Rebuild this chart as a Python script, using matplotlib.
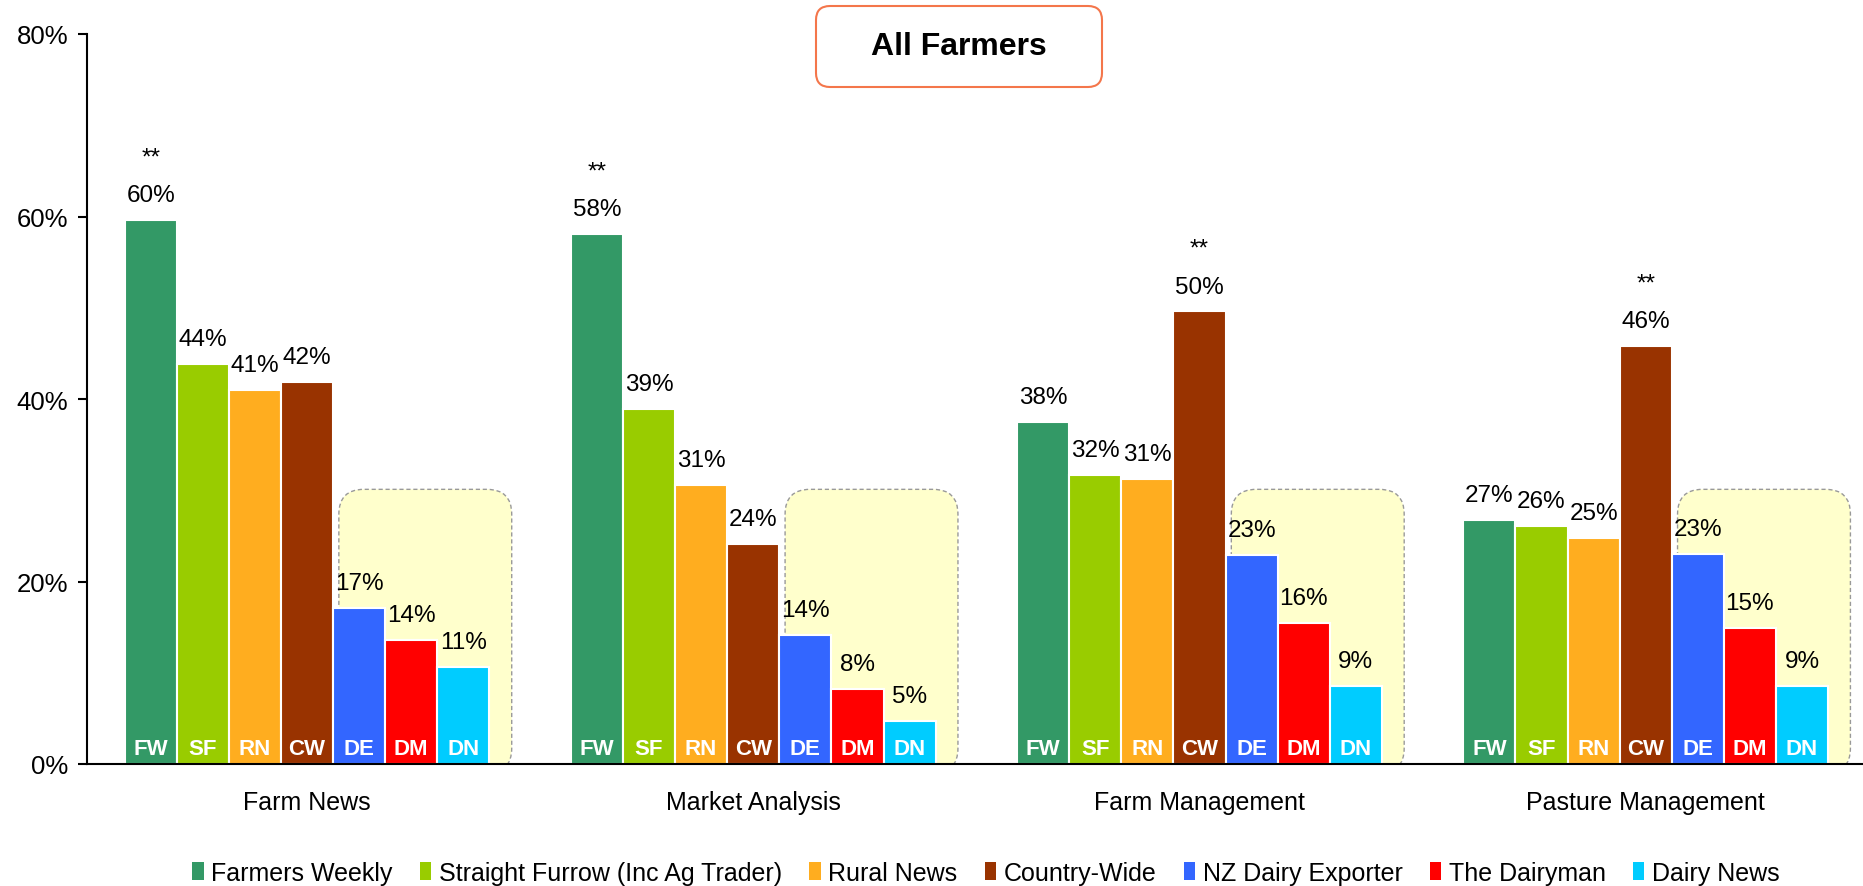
import matplotlib.pyplot as plt
from matplotlib.patches import FancyBboxPatch, Patch
from matplotlib.ticker import FuncFormatter

plt.rcParams['font.family'] = ['Liberation Sans', 'DejaVu Sans']

categories = ['Farm News', 'Market Analysis', 'Farm Management', 'Pasture Management']
series = ['Farmers Weekly', 'Straight Furrow (Inc Ag Trader)', 'Rural News', 'Country-Wide',
          'NZ Dairy Exporter', 'The Dairyman', 'Dairy News']
abbrev = ['FW', 'SF', 'RN', 'CW', 'DE', 'DM', 'DN']
colors = ['#339966', '#99CC00', '#FFAD1F', '#993300', '#3366FF', '#FF0000', '#00CCFF']

farmers_weekly = [59.6, 58.1, 37.5, 26.7]
straight_furrow = [43.8, 38.9, 31.7, 26.1]
rural_news = [41.0, 30.6, 31.2, 24.8]
country_wide = [41.9, 24.1, 49.6, 45.8]
dairy_exporter = [17.1, 14.1, 22.9, 23.0]
dairyman = [13.6, 8.2, 15.5, 14.9]
dairy_news = [10.6, 4.7, 8.6, 8.6]
values = [farmers_weekly, straight_furrow, rural_news, country_wide,
          dairy_exporter, dairyman, dairy_news]

# bars flagged with ** (series index, category index)
starred = [(0, 0), (0, 1), (3, 2), (3, 3)]

W, H = 1863, 887
fig = plt.figure(figsize=(W / 100, H / 100), dpi=100)
ax_left, ax_bottom, ax_h = 87, 122, 730
ax = fig.add_axes([ax_left / W, ax_bottom / H, 1 - ax_left / W, ax_h / H])

xlim = (-0.493, 3.487)
ylim = (0, 80)
ax.set_xlim(*xlim)
ax.set_ylim(*ylim)

bw = 0.1168
x = list(range(len(categories)))

# yellow highlight boxes behind the dairy titles
px_per_x = (W - ax_left) / (xlim[1] - xlim[0])
px_per_y = ax_h / (ylim[1] - ylim[0])
rx = 25 / px_per_x
for c in x:
    left = c + 0.5 * bw + 0.013
    right = c + 3.5 * bw + 0.05
    box = FancyBboxPatch((left, -1), right - left, 31.1,
                         boxstyle=f'round,pad=0,rounding_size={rx}',
                         mutation_aspect=px_per_x / px_per_y,
                         facecolor='#FFFFCC', edgecolor='#999999',
                         linestyle=(0, (3, 2)), linewidth=1.0, zorder=1)
    ax.add_patch(box)

for i, (vals, col, ab) in enumerate(zip(values, colors, abbrev)):
    pos = [c + (i - 3) * bw for c in x]
    ax.bar(pos, vals, width=bw, color=col, edgecolor='white', linewidth=1.5, zorder=2)
    for j, (p, v) in enumerate(zip(pos, vals)):
        ax.annotate(f'{v:.0f}%', (p, v), xytext=(0, 10), textcoords='offset points',
                    ha='center', va='bottom', fontsize=17.5, zorder=3)
        ax.annotate(ab, (p, 0), xytext=(0, 7.5), textcoords='offset points',
                    ha='center', va='baseline', fontsize=16, fontweight='bold',
                    color='white', zorder=3)
        if (i, j) in starred:
            ax.annotate('**', (p, v), xytext=(0, 45), textcoords='offset points',
                        ha='center', va='center', fontsize=17.5, zorder=3)

ax.set_xticks(x)
ax.set_xticklabels(categories, fontsize=18)
ax.tick_params(axis='x', length=0, pad=19)
ax.set_yticks([0, 20, 40, 60, 80])
ax.yaxis.set_major_formatter(FuncFormatter(lambda v, _: f'{v:.0f}%'))
ax.tick_params(axis='y', labelsize=18.5, length=6.5, width=1.5, pad=7)
for s in ['top', 'right']:
    ax.spines[s].set_visible(False)
ax.spines['left'].set_linewidth(1.5)
ax.spines['bottom'].set_linewidth(1.5)

# title box
tb = FancyBboxPatch((816 / W, 1 - 88 / H), 286 / W, 81 / H,
                    boxstyle=f'round,pad=0,rounding_size={14 / W}',
                    mutation_aspect=W / H, transform=fig.transFigure,
                    facecolor='white', edgecolor='#F4764B', linewidth=1.5)
fig.patches.append(tb)
fig.text(959 / W, 1 - 47 / H, 'All Farmers', ha='center', va='center',
         fontsize=23, fontweight='bold')

handles = [Patch(facecolor=c) for c in colors]
fig.legend(handles, series, loc='center', bbox_to_anchor=(986 / W, 13 / H), ncol=7,
           frameon=False, fontsize=18, handlelength=0.45, handleheight=0.75,
           handletextpad=0.3, columnspacing=1.1, borderpad=0)

fig.savefig('out.png', dpi=100)
